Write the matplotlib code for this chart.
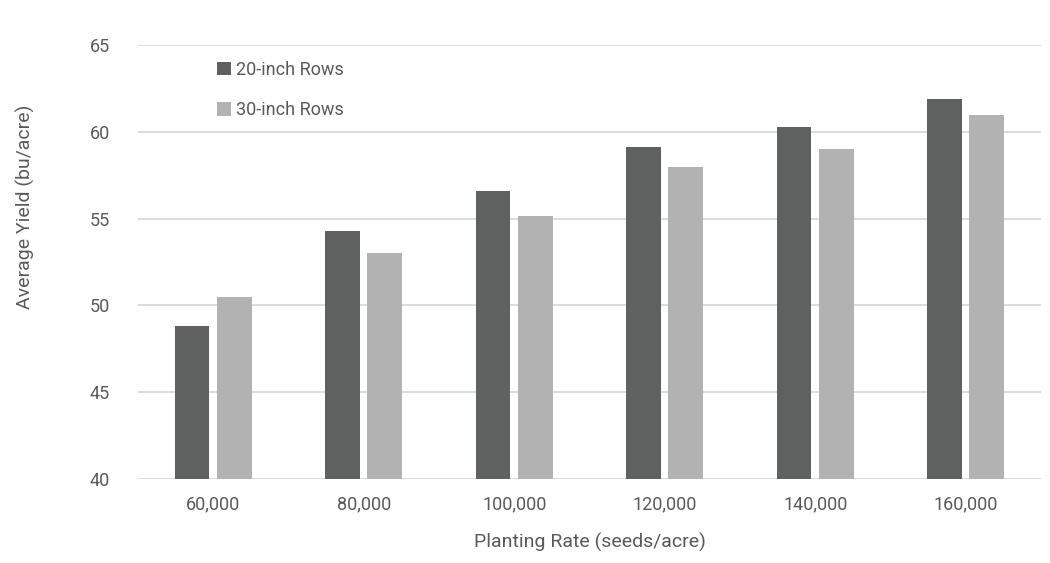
import matplotlib.pyplot as plt
import numpy as np

rates = ["60,000", "80,000", "100,000", "120,000", "140,000", "160,000"]
rows_20 = [48.8, 54.3, 56.6, 59.1, 60.3, 61.9]
rows_30 = [50.5, 53.0, 55.15, 58.0, 59.0, 60.95]
yticks = [40, 45, 50, 55, 60, 65]

plt.rcParams["font.family"] = ["Liberation Sans Narrow", "Roboto", "DejaVu Sans"]
TXT = "#595959"


def plot():
    fig = plt.figure(figsize=(10.5, 5.63), dpi=100)
    ax = fig.add_axes([0.1314, 0.1492, 0.86, 0.7708])
    x = np.arange(len(rates))
    w = 0.23
    off = 0.14
    ax.bar(x - off, rows_20, width=w, color="#5f6160", label="20-inch Rows", zorder=3)
    ax.bar(x + off, rows_30, width=w, color="#b2b2b2", label="30-inch Rows", zorder=3)

    ax.set_xlim(-0.5, len(rates) - 0.5)
    ax.set_ylim(40, 65)
    ax.set_yticks(yticks)
    ax.set_xticks(x)
    ax.set_xticklabels(rates)
    ax.grid(axis="y", color="#d9d9d9", linewidth=1.3, zorder=0)
    for s in ax.spines.values():
        s.set_visible(False)
    ax.tick_params(length=0, labelsize=13, colors=TXT, pad=12)
    ax.tick_params(axis="y", pad=20)

    ax.set_xlabel("Planting Rate (seeds/acre)", fontsize=14, color=TXT, labelpad=14)
    # y label sits above the axes centre in the original
    fig.text(25 / 1050, 1 - 207 / 563, "Average Yield (bu/acre)", rotation=90,
             fontsize=14, color=TXT, ha="center", va="center")

    leg = ax.legend(loc="upper left", bbox_to_anchor=(0.2, 0.905),
                    bbox_transform=fig.transFigure, frameon=False,
                    fontsize=13, handlelength=0.75, handleheight=0.75,
                    handletextpad=0.3, labelspacing=1.25, borderaxespad=0)
    for t in leg.get_texts():
        t.set_color(TXT)

    fig.savefig("out.png", dpi=100)


if __name__ == "__main__":
    plot()
